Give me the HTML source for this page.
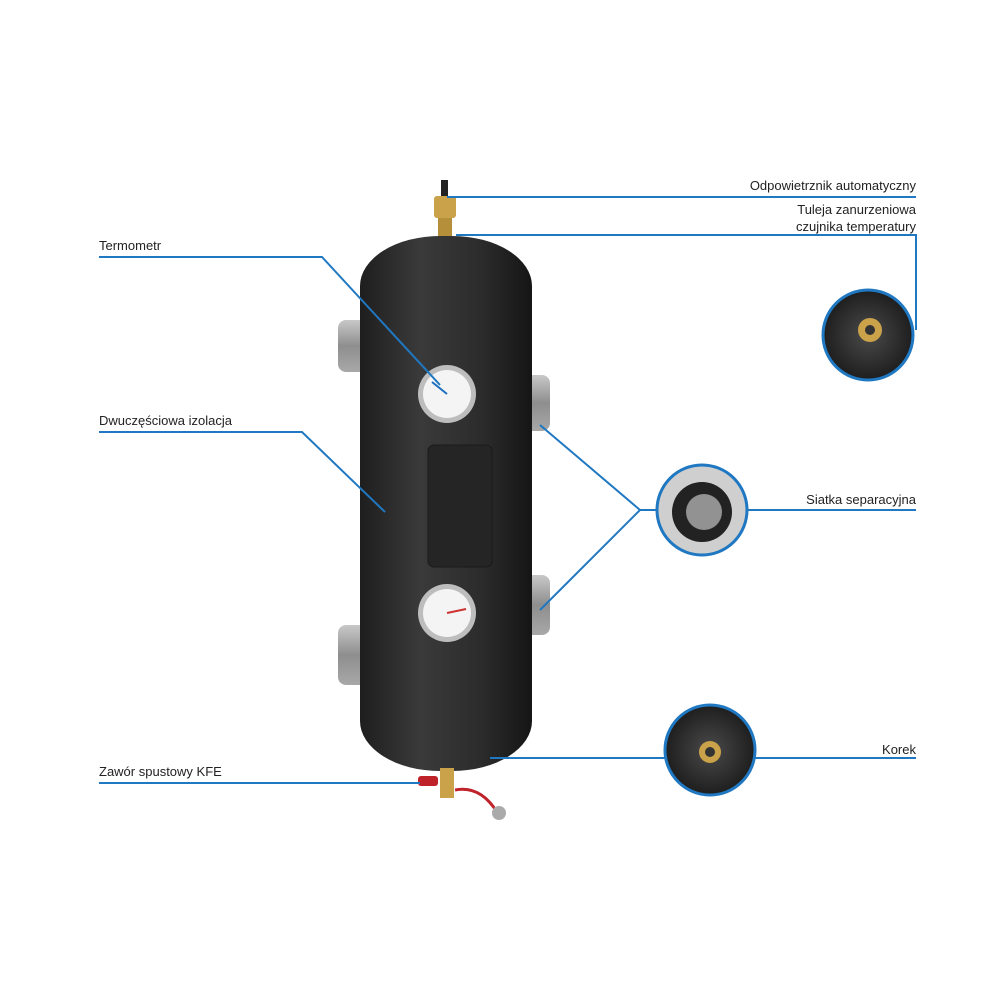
<!DOCTYPE html>
<html><head><meta charset="utf-8"><style>
html,body{margin:0;padding:0;background:#fff;}
svg text{font-family:"Liberation Sans",sans-serif;font-size:13px;fill:#222;}
</style></head><body>
<svg width="1000" height="1000" viewBox="0 0 1000 1000" xmlns="http://www.w3.org/2000/svg">
<defs>
<linearGradient id="tank" x1="0" x2="1" y1="0" y2="0">
<stop offset="0" stop-color="#1e1e1e"/><stop offset="0.35" stop-color="#3a3a3a"/><stop offset="0.7" stop-color="#2c2c2c"/><stop offset="1" stop-color="#151515"/>
</linearGradient>
<linearGradient id="port" x1="0" x2="0" y1="0" y2="1">
<stop offset="0" stop-color="#c8c8c8"/><stop offset="0.5" stop-color="#8e8e8e"/><stop offset="1" stop-color="#a8a8a8"/>
</linearGradient>
<radialGradient id="dk"><stop offset="0" stop-color="#4a4a4a"/><stop offset="1" stop-color="#1e1e1e"/></radialGradient>
</defs>
<!-- ports -->
<rect x="338" y="320" width="30" height="52" rx="8" fill="url(#port)"/>
<rect x="338" y="625" width="30" height="60" rx="8" fill="url(#port)"/>
<rect x="520" y="375" width="30" height="56" rx="8" fill="url(#port)"/>
<rect x="520" y="575" width="30" height="60" rx="8" fill="url(#port)"/>
<!-- valve top -->
<rect x="441" y="180" width="7" height="16" fill="#222"/>
<rect x="434" y="196" width="22" height="22" rx="3" fill="#c9a24a"/>
<rect x="438" y="218" width="14" height="22" fill="#b58f3a"/>
<!-- tank -->
<rect x="360" y="236" width="172" height="535" rx="80" ry="50" fill="url(#tank)"/>
<rect x="428" y="445" width="64" height="122" rx="6" fill="#252525" stroke="#1a1a1a"/>
<!-- gauges -->
<g>
<circle cx="447" cy="394" r="29" fill="#bdbdbd"/><circle cx="447" cy="394" r="24" fill="#f4f4f4"/>
<line x1="447" y1="394" x2="432" y2="382" stroke="#1a6fc0" stroke-width="2"/>
<circle cx="447" cy="613" r="29" fill="#bdbdbd"/><circle cx="447" cy="613" r="24" fill="#f4f4f4"/>
<line x1="447" y1="613" x2="466" y2="609" stroke="#c33" stroke-width="2"/>
</g>
<!-- drain valve -->
<rect x="440" y="768" width="14" height="30" fill="#c9a24a"/>
<rect x="418" y="776" width="20" height="10" rx="3" fill="#c0222a"/>
<path d="M455 790 Q480 785 497 812" stroke="#c0222a" stroke-width="3" fill="none"/>
<circle cx="499" cy="813" r="7" fill="#aaa"/>
<!-- lines -->
<g stroke="#1f78c1" stroke-width="2" fill="none">
<path d="M447 197 H916"/>
<path d="M456 235 H916 V330"/>
<path d="M99 257 H322 L440 385"/>
<path d="M99 432 H302 L385 512"/>
<path d="M747 510 H916"/>
<path d="M657 510 H640 L540 425 M640 510 L540 610"/>
<path d="M490 758 H665 M755 758 H916"/>
<path d="M99 783 H420"/>
</g>
<!-- detail circles -->
<circle cx="868" cy="335" r="45" fill="url(#dk)" stroke="#1f78c1" stroke-width="3"/>
<circle cx="870" cy="330" r="12" fill="#c9a24a"/><circle cx="870" cy="330" r="5" fill="#333"/>
<circle cx="702" cy="510" r="45" fill="#cfcfcf" stroke="#1f78c1" stroke-width="3"/>
<circle cx="702" cy="512" r="30" fill="#222"/><circle cx="704" cy="512" r="18" fill="#ddd" opacity="0.6"/>
<circle cx="710" cy="750" r="45" fill="url(#dk)" stroke="#1f78c1" stroke-width="3"/>
<circle cx="710" cy="752" r="11" fill="#c9a24a"/><circle cx="710" cy="752" r="5" fill="#333"/>
<!-- text -->
<text x="916" y="190" text-anchor="end">Odpowietrznik automatyczny</text>
<text x="916" y="214" text-anchor="end">Tuleja zanurzeniowa</text>
<text x="916" y="231" text-anchor="end">czujnika temperatury</text>
<text x="99" y="250">Termometr</text>
<text x="99" y="425">Dwuczęściowa izolacja</text>
<text x="916" y="504" text-anchor="end">Siatka separacyjna</text>
<text x="916" y="754" text-anchor="end">Korek</text>
<text x="99" y="776">Zawór spustowy KFE</text>
</svg>
</body></html>
